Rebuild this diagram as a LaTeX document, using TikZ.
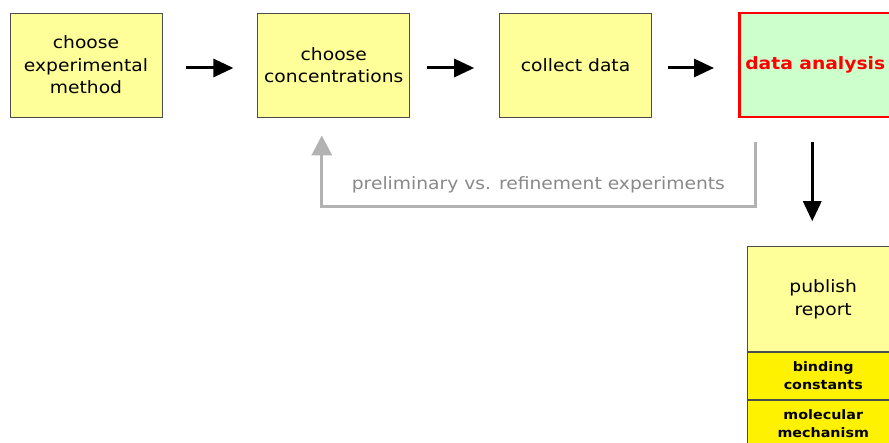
\documentclass[tikz,border=0pt]{standalone}
\usepackage{fontspec}
\setmainfont[FakeStretch=1.1]{DejaVu Sans}
\usepackage{tikz}
\usetikzlibrary{arrows.meta,calc,positioning}
\definecolor{paleyellow}{RGB}{255,255,153}
\definecolor{palegreen}{RGB}{204,255,204}
\definecolor{loopgray}{RGB}{178,178,178}
\definecolor{textgray}{RGB}{136,136,136}
\tikzstyle{box} = [draw=black!70, line width=0.8pt, fill=paleyellow, minimum width=152pt, minimum height=104pt, inner sep=0pt, align=center, font=\fontsize{17}{22.5}\selectfont]
\tikzstyle{result} = [box, fill=yellow, minimum height=47pt, font=\fontsize{13}{18}\selectfont\bfseries]
\tikzstyle{arrow} = [line width=3pt, -{Triangle[length=20pt,width=18pt]}]
\tikzstyle{feedback} = [loopgray, line width=3pt, -{Triangle[length=20pt,width=20pt]}]

\begin{document}
\begin{tikzpicture}[x=1pt,y=1pt]
\useasboundingbox (0,0) rectangle (889,-443);

% top row of steps
\node[box] (method) at (86,-65) {choose\\experimental\\method};
\node[box, right=95pt of method] (conc) {choose\\concentrations};
\node[box, right=89pt of conc] (collect) {collect data};
\node[box, right=86pt of collect, draw=red, line width=2.5pt, fill=palegreen,
      font=\fontsize{17}{22.5}\selectfont\bfseries, text=red] (analysis) {data analysis};

% report column
\node[box, below=128pt of analysis, xshift=8pt, minimum height=105pt] (publish) {publish\\report};
\node[result, below=0pt of publish] (binding) {binding\\constants};
\node[result, below=0pt of binding] (mechanism) {molecular\\mechanism};

\draw[arrow] ([xshift=24pt,yshift=-3pt]method.east) -- ([xshift=-24pt,yshift=-3pt]conc.west);
\draw[arrow] ([xshift=17pt,yshift=-3pt]conc.east) -- ([xshift=-25pt,yshift=-3pt]collect.west);
\draw[arrow] ([xshift=16pt,yshift=-3pt]collect.east) -- ([xshift=-24pt,yshift=-3pt]analysis.west);
\draw[arrow] ([xshift=-3pt,yshift=-24pt]analysis.south)
  -- ([xshift=-3pt,yshift=25pt]analysis.south |- publish.north);

% loop back for repeated experiments
\coordinate (fbstart) at ($(analysis.south west)+(17,-24)$);
\coordinate (fbend) at ($(conc.south)+(-12,-18)$);
\draw[feedback] (fbstart) -- ++(0,-64) -| (fbend)
  node[pos=0.25, above=8pt, text=textgray, font=\fontsize{17}{22.5}\selectfont] (prelim)
  {preliminary vs. refinement experiments};

\end{tikzpicture}
\end{document}
